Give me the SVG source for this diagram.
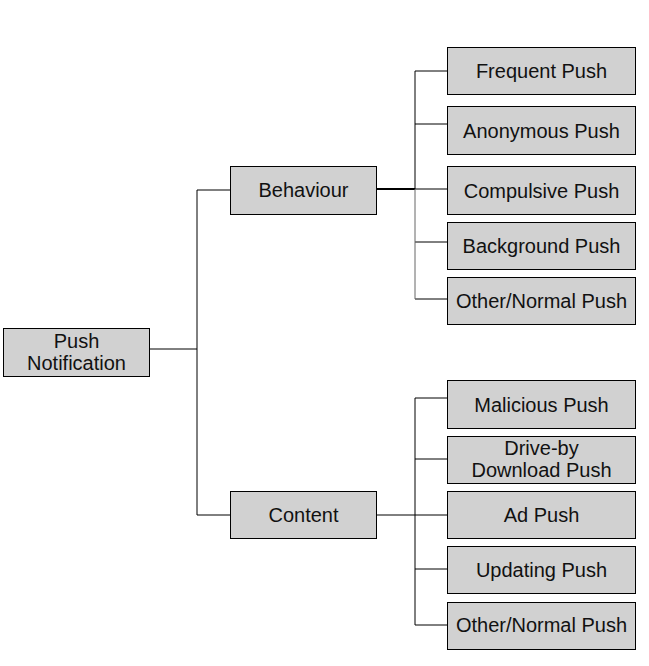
<svg xmlns="http://www.w3.org/2000/svg" width="649" height="666" viewBox="0 0 649 666">
<style>
.box{fill:#d1d1d1;stroke:#000;stroke-width:1}
.t{font-family:"Liberation Sans",Arial,sans-serif;font-size:20px;fill:#111;text-anchor:middle}
.c{stroke:#000;stroke-width:1;fill:none}
.g{stroke:#666;stroke-width:1;fill:none}
</style>
<rect width="649" height="666" fill="#fff"/>
<g id="connectors">
<path class="c" d="M149 349H197M197 190V515M197 190H230M197 515H230"/>
<path class="c" d="M377 189H415" style="stroke-width:2"/>
<path class="c" d="M415 71V189M415 71H447M415 124H447M415 189H447M415 242H447M415 299H447"/>
<path class="g" d="M415 189V299"/>
<path class="c" d="M377 515H415M415 398V625M415 398H447M415 459H447M415 515H447M415 569H447M415 625H447"/>
</g>
<g id="push-notification"><rect class="box" x="3.5" y="328.5" width="146" height="48"/><text class="t" x="76.5" y="348">Push</text><text class="t" x="76.5" y="370">Notification</text></g>
<g id="behaviour"><rect class="box" x="230.5" y="166.5" width="146" height="48"/><text class="t" x="303.5" y="197">Behaviour</text></g>
<g id="content"><rect class="box" x="230.5" y="491.5" width="146" height="47"/><text class="t" x="303.5" y="522">Content</text></g>
<g id="frequent"><rect class="box" x="447.5" y="47.5" width="188" height="47"/><text class="t" x="541.5" y="78">Frequent Push</text></g>
<g id="anonymous"><rect class="box" x="447.5" y="106.5" width="188" height="48"/><text class="t" x="541.5" y="138">Anonymous Push</text></g>
<g id="compulsive"><rect class="box" x="447.5" y="166.5" width="188" height="48"/><text class="t" x="541.5" y="198">Compulsive Push</text></g>
<g id="background"><rect class="box" x="447.5" y="222.5" width="188" height="47"/><text class="t" x="541.5" y="253">Background Push</text></g>
<g id="other-behaviour"><rect class="box" x="447.5" y="277.5" width="188" height="47"/><text class="t" x="541.5" y="308">Other/Normal Push</text></g>
<g id="malicious"><rect class="box" x="447.5" y="380.5" width="188" height="48"/><text class="t" x="541.5" y="412">Malicious Push</text></g>
<g id="drive-by"><rect class="box" x="447.5" y="436.5" width="188" height="47"/><text class="t" x="541.5" y="455">Drive-by</text><text class="t" x="541.5" y="477">Download Push</text></g>
<g id="ad"><rect class="box" x="447.5" y="491.5" width="188" height="47"/><text class="t" x="541.5" y="522">Ad Push</text></g>
<g id="updating"><rect class="box" x="447.5" y="546.5" width="188" height="47"/><text class="t" x="541.5" y="577">Updating Push</text></g>
<g id="other-content"><rect class="box" x="447.5" y="602.5" width="188" height="47"/><text class="t" x="541.5" y="632">Other/Normal Push</text></g>
</svg>
